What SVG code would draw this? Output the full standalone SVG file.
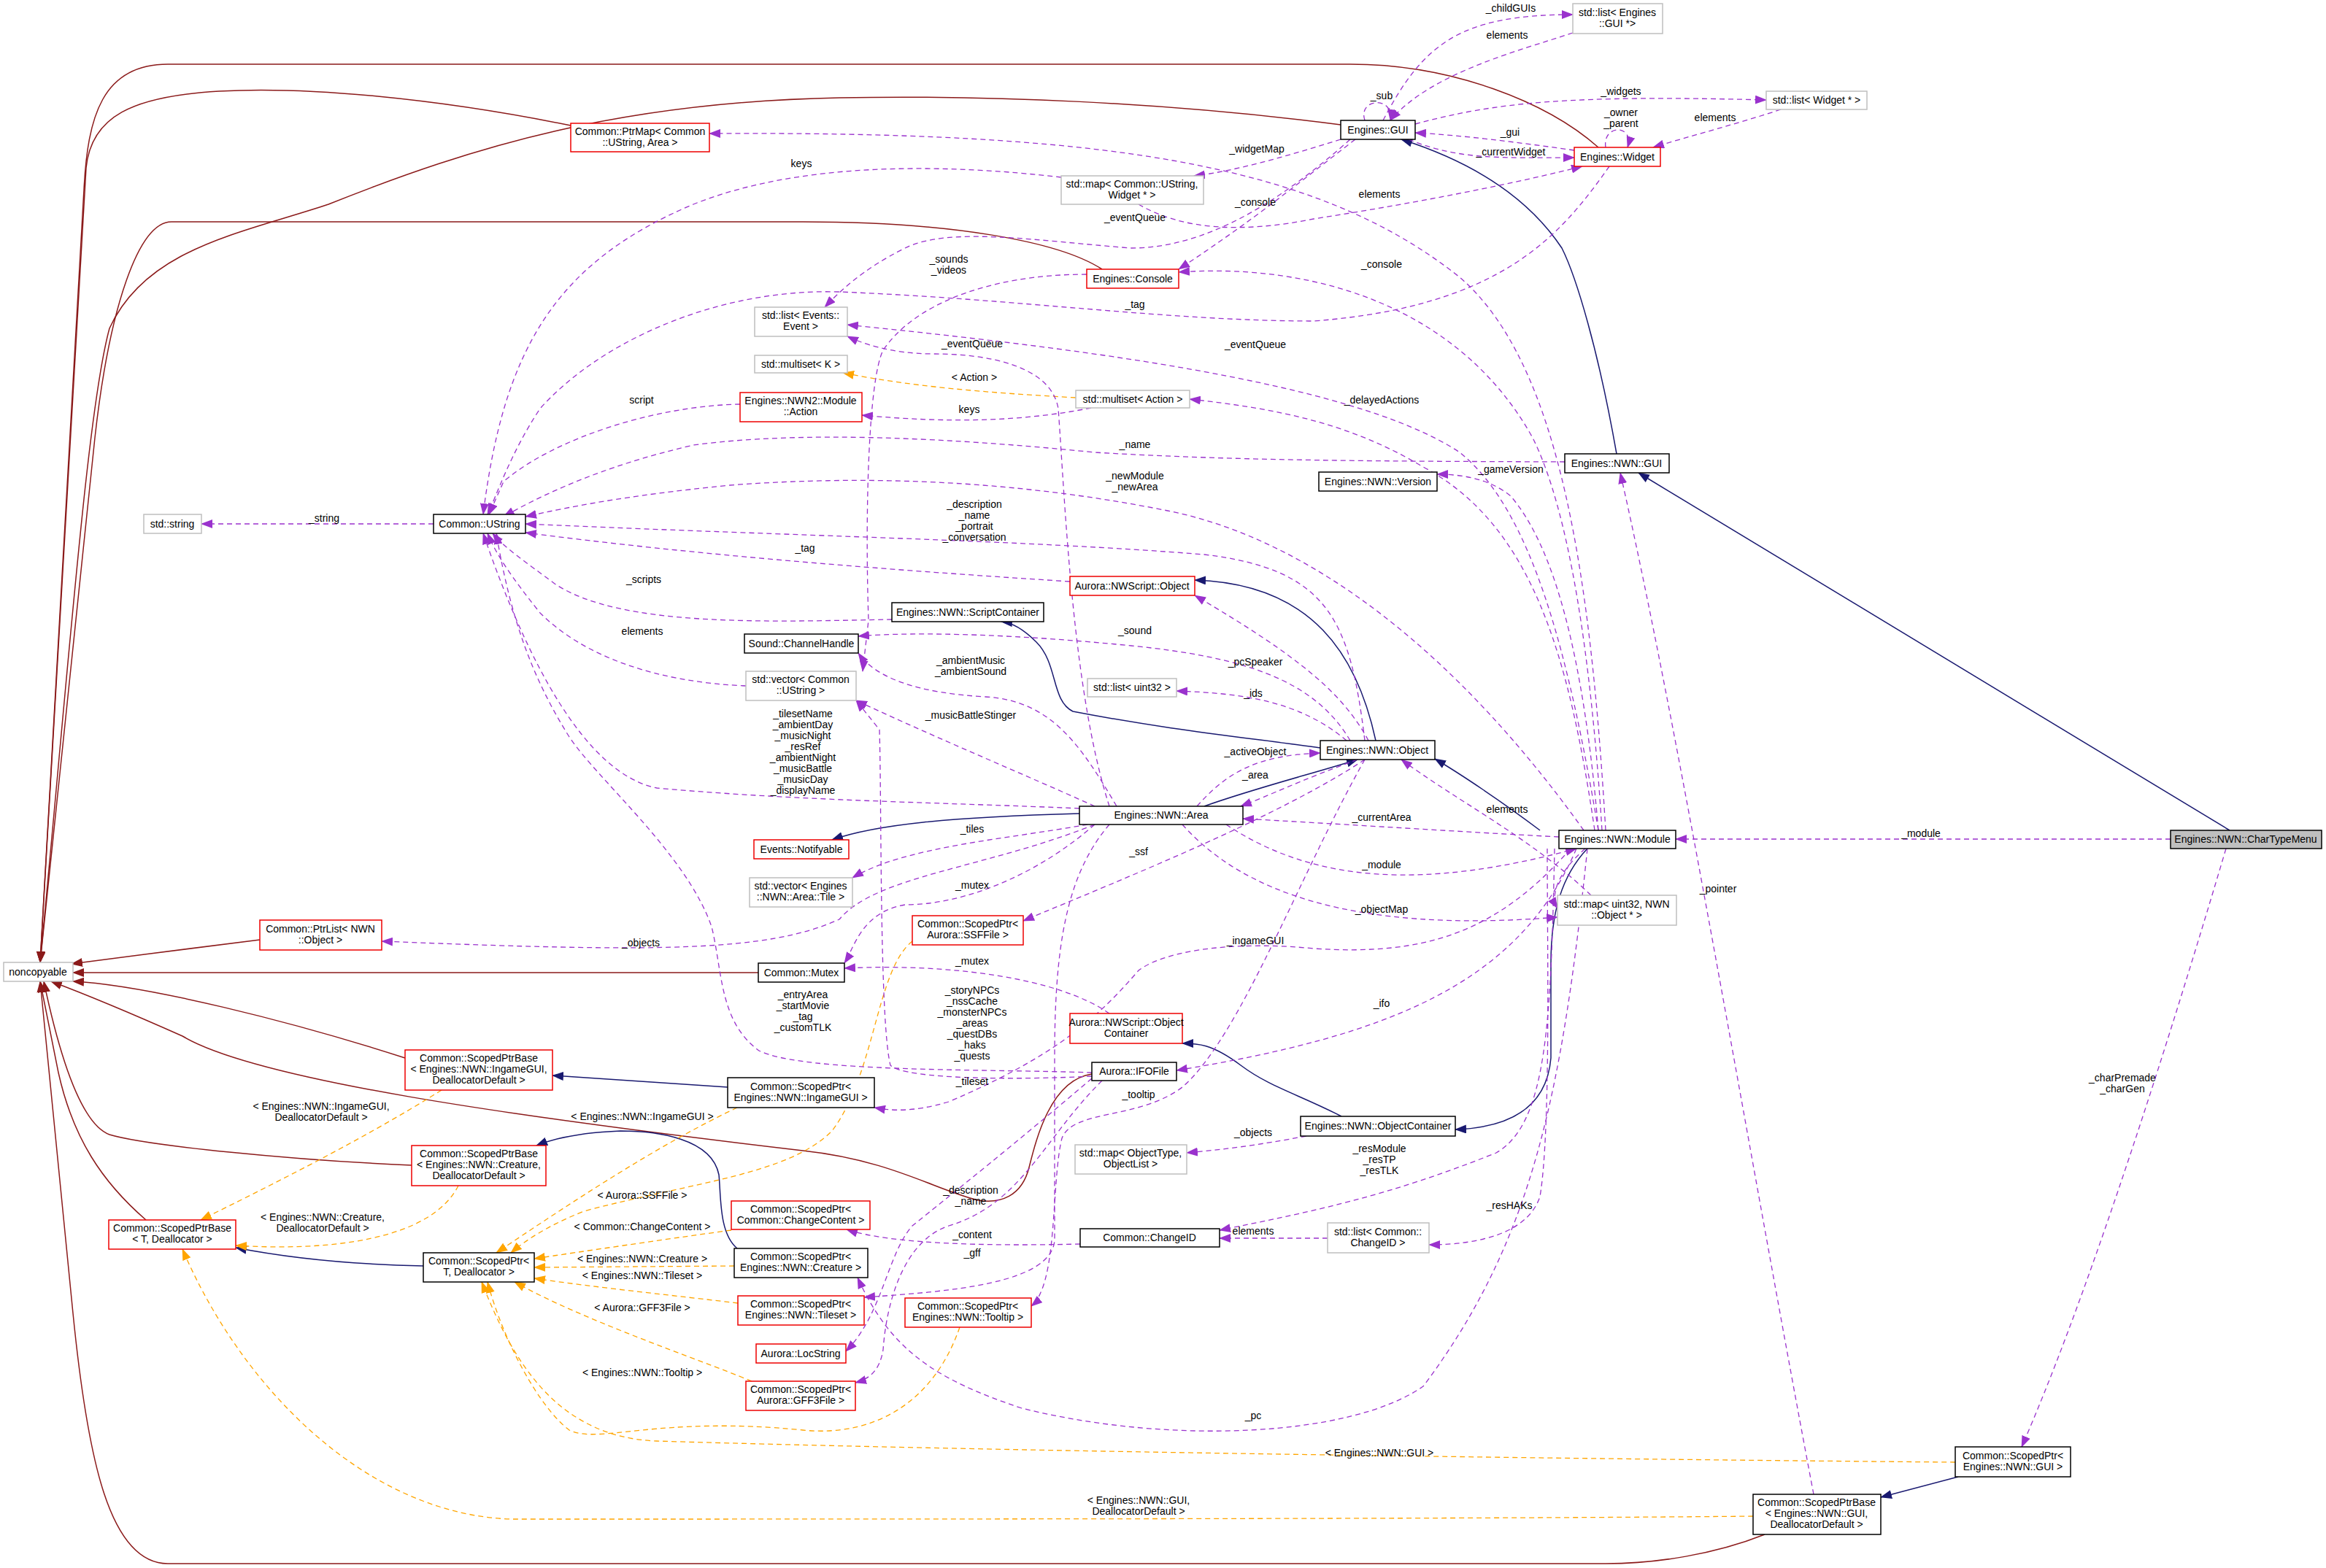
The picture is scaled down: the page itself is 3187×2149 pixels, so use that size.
<svg xmlns="http://www.w3.org/2000/svg" width="3187" height="2149" viewBox="0 0 3187 2149">
<style>
text{font-family:"Liberation Sans",Arial,sans-serif;font-size:14px;fill:#000;text-anchor:middle}
.k{fill:#fff;stroke:#000;stroke-width:1.5}
.r{fill:#fff;stroke:#e00;stroke-width:1.5}
.g{fill:#fff;stroke:#bfbfbf;stroke-width:1.5}
.s{fill:#bfbfbf;stroke:#000;stroke-width:1.5}
path{fill:none}
.u{stroke:#9a32cd;stroke-width:1.3;stroke-dasharray:7,5;marker-end:url(#mu)}
.i{stroke:#191970;stroke-width:1.5;marker-end:url(#mi)}
.p{stroke:#8b1a1a;stroke-width:1.5;marker-end:url(#mp)}
.o{stroke:#ffa500;stroke-width:1.3;stroke-dasharray:7,5;marker-end:url(#mo)}
</style>
<defs>
<marker id="mu" markerWidth="16" markerHeight="12" refX="15" refY="6" orient="auto" markerUnits="userSpaceOnUse"><path d="M0,0L16,6L0,12z" style="fill:#9a32cd;stroke:none"/></marker>
<marker id="mi" markerWidth="16" markerHeight="12" refX="15" refY="6" orient="auto" markerUnits="userSpaceOnUse"><path d="M0,0L16,6L0,12z" style="fill:#191970;stroke:none"/></marker>
<marker id="mp" markerWidth="16" markerHeight="12" refX="15" refY="6" orient="auto" markerUnits="userSpaceOnUse"><path d="M0,0L16,6L0,12z" style="fill:#8b1a1a;stroke:none"/></marker>
<marker id="mo" markerWidth="16" markerHeight="12" refX="15" refY="6" orient="auto" markerUnits="userSpaceOnUse"><path d="M0,0L16,6L0,12z" style="fill:#ffa500;stroke:none"/></marker>
</defs>
<rect width="3187" height="2149" fill="#fff"/>
<g id="edges">
<!-- dark red to noncopyable -->
<path class="p" d="M2190,202 C2120,140 1990,88 1850,88 L230,88 C140,88 120,160 115,260 L55,1319"/>
<path class="p" d="M782,172 C600,135 420,118 300,125 C180,132 125,160 118,230 L55,1319"/>
<path class="p" d="M1837,171 C1600,140 1350,130 1150,134 C850,140 650,200 450,280 C330,320 200,340 150,450 C120,560 95,900 55,1319"/>
<path class="p" d="M1510,369 C1450,330 1300,304 1100,304 L235,304 C190,304 150,420 130,600 L55,1319"/>
<path class="p" d="M1039,1333 L100,1333"/>
<path class="p" d="M356,1288 C300,1295 180,1310 98,1321"/>
<path class="p" d="M555,1450 C400,1400 200,1350 100,1345"/>
<path class="p" d="M1496,1472 C1440,1480 1420,1560 1410,1600 C1400,1640 1370,1650 1340,1645 C1280,1630 1220,1590 1100,1577 C700,1530 350,1480 250,1420 C160,1380 110,1360 70,1345"/>
<path class="p" d="M564,1597 C400,1590 200,1570 150,1555 C110,1540 80,1440 60,1345"/>
<path class="p" d="M200,1672 C140,1620 100,1560 80,1470 L55,1345"/>
<path class="p" d="M2418,2103 C2350,2130 2270,2143 2200,2143 L230,2143 C150,2143 120,2000 100,1800 L55,1345"/>
<!-- navy inheritance -->
<path class="i" d="M2215,622 C2190,480 2160,380 2140,340 C2080,250 1980,210 1920,191"/>
<path class="i" d="M3055,1138 L2245,648"/>
<path class="i" d="M1885,1015 C1860,900 1800,800 1637,795"/>
<path class="i" d="M1809,1025 C1700,1010 1600,1000 1470,975 C1440,960 1450,910 1420,880 C1400,860 1385,853 1372,852"/>
<path class="i" d="M1650,1105 C1720,1080 1800,1060 1860,1041"/>
<path class="i" d="M2110,1138 C2060,1100 2000,1060 1966,1040"/>
<path class="i" d="M1479,1115 C1300,1120 1200,1130 1140,1151"/>
<path class="i" d="M2175,1163 C2140,1200 2125,1250 2125,1320 L2125,1450 C2120,1510 2080,1545 1994,1548"/>
<path class="i" d="M1838,1530 C1780,1500 1740,1490 1700,1460 C1660,1430 1640,1430 1620,1430"/>
<path class="i" d="M997,1490 L757,1474"/>
<path class="i" d="M1010,1711 C985,1690 988,1640 985,1610 C975,1560 900,1550 850,1550 C800,1552 760,1560 735,1570"/>
<path class="i" d="M580,1735 C480,1733 400,1725 323,1710"/>
<path class="i" d="M2683,2024 L2577,2052"/>
<!-- orange template -->
<path class="o" d="M1474,545 C1350,538 1250,530 1155,511"/>
<path class="o" d="M605,1494 C500,1560 380,1620 275,1672"/>
<path class="o" d="M628,1625 C590,1700 450,1715 323,1707"/>
<path class="o" d="M2402,2078 C2000,2082 1200,2082 700,2082 C500,2075 330,1900 250,1712"/>
<path class="o" d="M1010,1518 C900,1570 780,1650 680,1717"/>
<path class="o" d="M1250,1290 C1200,1330 1200,1470 1140,1550 C1080,1610 950,1620 800,1660 C750,1680 720,1700 700,1717"/>
<path class="o" d="M1002,1686 C900,1700 800,1715 732,1725"/>
<path class="o" d="M1006,1735 L732,1737"/>
<path class="o" d="M1011,1786 C920,1775 820,1765 732,1752"/>
<path class="o" d="M1030,1893 C950,1860 800,1810 705,1757"/>
<path class="o" d="M1315,1819 C1280,1920 1200,1970 1100,1960 C900,1940 820,1980 780,1960 C740,1930 690,1840 668,1757"/>
<path class="o" d="M2679,2004 C2200,2000 1400,1990 900,1975 C760,1970 700,1860 660,1757"/>
<!-- purple usage -->
<path class="u" d="M594,718 L276,718"/>
<path class="u" d="M2155,45 C2080,70 1960,100 1905,165"/>
<path class="u" d="M1895,165 C1950,60 2000,20 2155,20"/>
<path class="u" d="M1870,165 C1860,135 1910,130 1905,165"/>
<path class="u" d="M1939,170 C2050,140 2150,130 2420,137"/>
<path class="u" d="M2440,150 C2380,170 2320,185 2265,202"/>
<path class="u" d="M2200,202 C2195,170 2240,170 2230,202"/>
<path class="u" d="M2157,206 C2080,195 2000,185 1939,182"/>
<path class="u" d="M1930,191 C2000,220 2060,216 2157,216"/>
<path class="u" d="M1837,191 C1760,215 1690,235 1636,241"/>
<path class="u" d="M1560,280 C1620,315 1700,320 1800,300 C1960,275 2080,250 2168,228"/>
<path class="u" d="M1454,243 C1300,225 1100,220 950,280 C760,360 690,480 662,705"/>
<path class="u" d="M1857,191 C1780,250 1720,300 1615,369"/>
<path class="u" d="M1850,191 C1750,280 1650,340 1550,340 C1420,330 1300,310 1240,340 C1180,370 1150,400 1130,421"/>
<path class="u" d="M1489,376 C1350,376 1250,420 1210,480 C1190,520 1185,700 1190,850 L1182,920"/>
<path class="u" d="M2205,228 C2140,320 2060,420 1800,440 C1600,440 1400,410 1150,400 C980,395 820,470 740,560 C700,620 680,680 668,705"/>
<path class="u" d="M2195,1138 C2180,900 2150,700 2100,600 C2000,420 1800,360 1615,373"/>
<path class="u" d="M2190,1138 C2150,900 2100,700 2000,620 C1850,520 1450,475 1161,445"/>
<path class="u" d="M1520,1105 C1470,950 1460,700 1450,560 C1440,500 1350,485 1280,485 C1220,485 1180,470 1161,461"/>
<path class="u" d="M2185,1138 C2150,900 2100,720 1950,640 C1850,580 1750,560 1630,547"/>
<path class="u" d="M1495,559 C1400,578 1300,580 1181,569"/>
<path class="u" d="M1014,554 C900,556 760,600 690,660 L670,705"/>
<path class="u" d="M2144,633 C1900,632 1700,632 1500,620 C1300,600 1100,590 950,610 C820,640 740,680 690,708"/>
<path class="u" d="M2170,1138 C2000,900 1800,740 1600,700 C1400,660 1200,650 1000,665 C850,680 780,695 720,708"/>
<path class="u" d="M1870,1015 C1850,850 1820,780 1650,760 C1400,740 1100,735 720,718"/>
<path class="u" d="M1466,797 C1200,780 950,760 720,730"/>
<path class="u" d="M1222,849 C1050,852 850,860 760,800 C720,770 690,750 675,731"/>
<path class="u" d="M1022,940 C900,935 800,900 740,840 C700,790 680,760 668,731"/>
<path class="u" d="M1479,1108 C1300,1100 1100,1098 900,1080 C800,1060 720,900 662,731"/>
<path class="u" d="M1496,1470 C1350,1465 1100,1470 1040,1440 C985,1400 990,1330 975,1270 C940,1170 820,1070 780,1010 C730,930 700,850 680,731"/>
<path class="u" d="M1850,1015 C1800,930 1700,900 1550,885 C1400,870 1260,865 1176,872"/>
<path class="u" d="M1530,1105 C1480,1020 1440,960 1350,955 C1260,950 1200,930 1176,895"/>
<path class="u" d="M1500,1105 C1400,1060 1280,1010 1173,960"/>
<path class="u" d="M1845,1015 C1780,960 1700,950 1612,947"/>
<path class="u" d="M1875,1015 C1840,950 1780,900 1637,816"/>
<path class="u" d="M1640,1105 C1680,1060 1720,1035 1809,1032"/>
<path class="u" d="M1860,1041 C1780,1070 1740,1090 1700,1105"/>
<path class="u" d="M2136,1147 C2000,1140 1850,1130 1703,1122"/>
<path class="u" d="M1680,1130 C1800,1210 1950,1220 2160,1163"/>
<path class="u" d="M1620,1130 C1700,1220 1850,1280 2134,1257"/>
<path class="u" d="M2180,1227 C2100,1150 2000,1100 1920,1041"/>
<path class="u" d="M2172,1163 C2130,1200 2125,1230 2134,1245"/>
<path class="u" d="M2152,1163 C2050,1280 1950,1310 1800,1300 C1700,1290 1600,1300 1560,1330 C1500,1400 1440,1450 1300,1510 C1250,1525 1220,1522 1198,1518"/>
<path class="u" d="M2160,1163 C2080,1350 1900,1420 1612,1467"/>
<path class="u" d="M1520,1389 C1450,1340 1300,1320 1157,1327"/>
<path class="u" d="M1500,1130 C1420,1200 1320,1240 1240,1240 C1180,1250 1170,1300 1157,1320"/>
<path class="u" d="M1490,1130 C1380,1150 1240,1160 1168,1203"/>
<path class="u" d="M1870,1041 C1750,1120 1550,1200 1402,1262"/>
<path class="u" d="M1500,1130 C1350,1190 1200,1200 1150,1260 C1050,1305 900,1305 523,1290"/>
<path class="u" d="M1520,1130 C1460,1200 1445,1300 1445,1450 L1445,1700 C1440,1760 1300,1770 1184,1778"/>
<path class="u" d="M1496,1475 C1400,1480 1240,1480 1220,1460 C1205,1400 1208,1100 1205,1000 L1173,960"/>
<path class="u" d="M1496,1478 C1400,1560 1300,1640 1250,1680 C1215,1720 1210,1800 1159,1852"/>
<path class="u" d="M2130,1163 C2125,1400 2120,1540 2050,1580 C1900,1640 1800,1660 1671,1686"/>
<path class="u" d="M2120,1163 C2120,1300 2125,1550 2110,1640 C2090,1700 2000,1706 1958,1706"/>
<path class="u" d="M1819,1697 L1671,1697"/>
<path class="u" d="M1480,1705 C1350,1708 1220,1705 1160,1685"/>
<path class="u" d="M1510,1481 C1430,1560 1400,1650 1300,1680 C1240,1700 1215,1780 1210,1850 C1205,1880 1190,1890 1172,1895"/>
<path class="u" d="M1870,1041 C1780,1200 1700,1420 1620,1490 C1560,1535 1470,1520 1455,1560 C1440,1620 1450,1760 1413,1790"/>
<path class="u" d="M2175,1163 C2140,1500 2100,1700 1950,1900 C1850,1970 1600,1980 1400,1930 C1280,1890 1220,1850 1175,1751"/>
<path class="u" d="M1790,1557 C1720,1570 1680,1575 1626,1580"/>
<path class="u" d="M2190,1138 C2170,900 2130,750 2070,680 C2040,655 2000,650 1969,650"/>
<path class="u" d="M2485,2048 C2400,1600 2300,1000 2220,648"/>
<path class="u" d="M3050,1163 C2950,1500 2850,1800 2770,1983"/>
<path class="u" d="M2974,1150 L2296,1150"/>
<path class="u" d="M2200,1138 C2180,800 2140,500 2000,380 C1800,220 1500,180 972,183"/>
</g>
<g id="labels">
<text x="444" y="715">_string</text>
<text x="2065" y="53">elements</text>
<text x="2070" y="16">_childGUIs</text>
<text x="1893" y="136">_sub</text>
<text x="2221" y="130">_widgets</text>
<text x="2350" y="166">elements</text>
<text x="2221" y="159">_owner</text><text x="2221" y="174">_parent</text>
<text x="2069" y="186">_gui</text>
<text x="2070" y="213">_currentWidget</text>
<text x="1722" y="209">_widgetMap</text>
<text x="1890" y="271">elements</text>
<text x="1098" y="229">keys</text>
<text x="1720" y="282">_console</text>
<text x="1555" y="303">_eventQueue</text>
<text x="1300" y="360">_sounds</text><text x="1300" y="375">_videos</text>
<text x="1555" y="422">_tag</text>
<text x="1893" y="367">_console</text>
<text x="1720" y="477">_eventQueue</text>
<text x="1332" y="476">_eventQueue</text>
<text x="1893" y="553">_delayedActions</text>
<text x="1335" y="522">&lt; Action &gt;</text>
<text x="1328" y="566">keys</text>
<text x="879" y="553">script</text>
<text x="1555" y="614">_name</text>
<text x="1555" y="657">_newModule</text><text x="1555" y="672">_newArea</text>
<text x="2070" y="648">_gameVersion</text>
<text x="1335" y="696">_description</text><text x="1335" y="711">_name</text><text x="1335" y="726">_portrait</text><text x="1335" y="741">_conversation</text>
<text x="1103" y="756">_tag</text>
<text x="882" y="799">_scripts</text>
<text x="880" y="870">elements</text>
<text x="1720" y="912">_pcSpeaker</text>
<text x="1555" y="869">_sound</text>
<text x="1330" y="910">_ambientMusic</text><text x="1330" y="925">_ambientSound</text>
<text x="1717" y="955">_ids</text>
<text x="1330" y="985">_musicBattleStinger</text>
<text x="1100" y="983">_tilesetName</text><text x="1100" y="998">_ambientDay</text><text x="1100" y="1013">_musicNight</text><text x="1100" y="1028">_resRef</text><text x="1100" y="1043">_ambientNight</text><text x="1100" y="1058">_musicBattle</text><text x="1100" y="1073">_musicDay</text><text x="1100" y="1088">_displayName</text>
<text x="1720" y="1035">_activeObject</text>
<text x="1720" y="1067">_area</text>
<text x="2065" y="1114">elements</text>
<text x="1893" y="1125">_currentArea</text>
<text x="2632" y="1147">_module</text>
<text x="1893" y="1190">_module</text>
<text x="1332" y="1141">_tiles</text>
<text x="1560" y="1172">_ssf</text>
<text x="2354" y="1223">_pointer</text>
<text x="1332" y="1218">_mutex</text>
<text x="1893" y="1251">_objectMap</text>
<text x="1720" y="1294">_ingameGUI</text>
<text x="878" y="1297">_objects</text>
<text x="1332" y="1322">_mutex</text>
<text x="1100" y="1368">_entryArea</text><text x="1100" y="1383">_startMovie</text><text x="1100" y="1398">_tag</text><text x="1100" y="1413">_customTLK</text>
<text x="1332" y="1362">_storyNPCs</text><text x="1332" y="1377">_nssCache</text><text x="1332" y="1392">_monsterNPCs</text><text x="1332" y="1407">_areas</text><text x="1332" y="1422">_questDBs</text><text x="1332" y="1437">_haks</text><text x="1332" y="1452">_quests</text>
<text x="1893" y="1380">_ifo</text>
<text x="2908" y="1482">_charPremade</text><text x="2908" y="1497">_charGen</text>
<text x="1332" y="1487">_tileset</text>
<text x="1560" y="1505">_tooltip</text>
<text x="440" y="1521">&lt; Engines::NWN::IngameGUI,</text><text x="440" y="1536">DeallocatorDefault &gt;</text>
<text x="880" y="1535">&lt; Engines::NWN::IngameGUI &gt;</text>
<text x="1717" y="1557">_objects</text>
<text x="1890" y="1579">_resModule</text><text x="1890" y="1594">_resTP</text><text x="1890" y="1609">_resTLK</text>
<text x="1330" y="1636">_description</text><text x="1330" y="1651">_name</text>
<text x="880" y="1643">&lt; Aurora::SSFFile &gt;</text>
<text x="2068" y="1657">_resHAKs</text>
<text x="442" y="1673">&lt; Engines::NWN::Creature,</text><text x="442" y="1688">DeallocatorDefault &gt;</text>
<text x="880" y="1686">&lt; Common::ChangeContent &gt;</text>
<text x="1717" y="1692">elements</text>
<text x="1332" y="1697">_content</text>
<text x="1332" y="1722">_gff</text>
<text x="880" y="1730">&lt; Engines::NWN::Creature &gt;</text>
<text x="880" y="1753">&lt; Engines::NWN::Tileset &gt;</text>
<text x="880" y="1797">&lt; Aurora::GFF3File &gt;</text>
<text x="880" y="1886">&lt; Engines::NWN::Tooltip &gt;</text>
<text x="1717" y="1945">_pc</text>
<text x="1890" y="1996">&lt; Engines::NWN::GUI &gt;</text>
<text x="1560" y="2061">&lt; Engines::NWN::GUI,</text><text x="1560" y="2076">DeallocatorDefault &gt;</text>
</g>
<g id="n_chartypemenu"><rect class="s" x="2974" y="1138" width="207" height="25"/><text x="3077" y="1155">Engines::NWN::CharTypeMenu</text></g>
<g id="n_module"><rect class="k" x="2136" y="1138" width="160" height="25"/><text x="2216" y="1155">Engines::NWN::Module</text></g>
<g id="n_mapobj"><rect class="g" x="2134" y="1227" width="163" height="41"/><text x="2215" y="1244">std::map&lt; uint32, NWN</text><text x="2215" y="1259">::Object * &gt;</text></g>
<g id="n_nwngui"><rect class="k" x="2144" y="622" width="143" height="26"/><text x="2215" y="640">Engines::NWN::GUI</text></g>
<g id="n_gui"><rect class="k" x="1837" y="165" width="102" height="26"/><text x="1888" y="183">Engines::GUI</text></g>
<g id="n_widget"><rect class="r" x="2157" y="202" width="118" height="26"/><text x="2216" y="220">Engines::Widget</text></g>
<g id="n_listgui"><rect class="g" x="2155" y="5" width="123" height="41"/><text x="2216" y="22">std::list&lt; Engines</text><text x="2216" y="37">::GUI *&gt;</text></g>
<g id="n_listwidget"><rect class="g" x="2420" y="125" width="138" height="25"/><text x="2489" y="142">std::list&lt; Widget * &gt;</text></g>
<g id="n_ptrmap"><rect class="r" x="782" y="169" width="190" height="39"/><text x="877" y="185">Common::PtrMap&lt; Common</text><text x="877" y="200">::UString, Area &gt;</text></g>
<g id="n_mapwidget"><rect class="g" x="1454" y="241" width="195" height="39"/><text x="1551" y="257">std::map&lt; Common::UString,</text><text x="1551" y="272">Widget * &gt;</text></g>
<g id="n_console"><rect class="r" x="1489" y="369" width="126" height="26"/><text x="1552" y="387">Engines::Console</text></g>
<g id="n_listevents"><rect class="g" x="1034" y="421" width="127" height="40"/><text x="1097" y="437">std::list&lt; Events::</text><text x="1097" y="452">Event &gt;</text></g>
<g id="n_multisetk"><rect class="g" x="1034" y="487" width="127" height="24"/><text x="1097" y="504">std::multiset&lt; K &gt;</text></g>
<g id="n_action"><rect class="r" x="1014" y="538" width="167" height="40"/><text x="1097" y="554">Engines::NWN2::Module</text><text x="1097" y="569">::Action</text></g>
<g id="n_multisetaction"><rect class="g" x="1474" y="535" width="156" height="24"/><text x="1552" y="552">std::multiset&lt; Action &gt;</text></g>
<g id="n_stdstring"><rect class="g" x="197" y="705" width="79" height="26"/><text x="236" y="723">std::string</text></g>
<g id="n_ustring"><rect class="k" x="594" y="705" width="126" height="26"/><text x="657" y="723">Common::UString</text></g>
<g id="n_nwscriptobject"><rect class="r" x="1466" y="790" width="171" height="26"/><text x="1551" y="808">Aurora::NWScript::Object</text></g>
<g id="n_scriptcontainer"><rect class="k" x="1222" y="826" width="208" height="26"/><text x="1326" y="844">Engines::NWN::ScriptContainer</text></g>
<g id="n_channelhandle"><rect class="k" x="1020" y="869" width="156" height="26"/><text x="1098" y="887">Sound::ChannelHandle</text></g>
<g id="n_vectorustring"><rect class="g" x="1022" y="920" width="151" height="40"/><text x="1097" y="936">std::vector&lt; Common</text><text x="1097" y="951">::UString &gt;</text></g>
<g id="n_listuint32"><rect class="g" x="1490" y="930" width="122" height="25"/><text x="1551" y="947">std::list&lt; uint32 &gt;</text></g>
<g id="n_object"><rect class="k" x="1809" y="1015" width="157" height="26"/><text x="1887" y="1033">Engines::NWN::Object</text></g>
<g id="n_version"><rect class="k" x="1807" y="647" width="162" height="26"/><text x="1888" y="665">Engines::NWN::Version</text></g>
<g id="n_area"><rect class="k" x="1479" y="1105" width="224" height="25"/><text x="1591" y="1122">Engines::NWN::Area</text></g>
<g id="n_notifyable"><rect class="r" x="1033" y="1151" width="130" height="26"/><text x="1098" y="1169">Events::Notifyable</text></g>
<g id="n_vectortile"><rect class="g" x="1027" y="1203" width="141" height="40"/><text x="1097" y="1219">std::vector&lt; Engines</text><text x="1097" y="1234">::NWN::Area::Tile &gt;</text></g>
<g id="n_ptrlist"><rect class="r" x="356" y="1261" width="167" height="41"/><text x="439" y="1278">Common::PtrList&lt; NWN</text><text x="439" y="1293">::Object &gt;</text></g>
<g id="n_noncopyable"><rect class="g" x="5" y="1319" width="95" height="26"/><text x="52" y="1337">noncopyable</text></g>
<g id="n_mutex"><rect class="k" x="1039" y="1320" width="118" height="26"/><text x="1098" y="1338">Common::Mutex</text></g>
<g id="n_ssf"><rect class="r" x="1250" y="1255" width="152" height="40"/><text x="1326" y="1271">Common::ScopedPtr&lt;</text><text x="1326" y="1286">Aurora::SSFFile &gt;</text></g>
<g id="n_nwsobjcontainer"><rect class="r" x="1466" y="1389" width="154" height="41"/><text x="1543" y="1406">Aurora::NWScript::Object</text><text x="1543" y="1421">Container</text></g>
<g id="n_ifo"><rect class="k" x="1496" y="1456" width="116" height="25"/><text x="1554" y="1473">Aurora::IFOFile</text></g>
<g id="n_spbingame"><rect class="r" x="555" y="1439" width="202" height="55"/><text x="656" y="1455">Common::ScopedPtrBase</text><text x="656" y="1470">&lt; Engines::NWN::IngameGUI,</text><text x="656" y="1485">DeallocatorDefault &gt;</text></g>
<g id="n_spingame"><rect class="k" x="997" y="1477" width="201" height="41"/><text x="1097" y="1494">Common::ScopedPtr&lt;</text><text x="1097" y="1509">Engines::NWN::IngameGUI &gt;</text></g>
<g id="n_spbcreature"><rect class="r" x="564" y="1570" width="184" height="55"/><text x="656" y="1586">Common::ScopedPtrBase</text><text x="656" y="1601">&lt; Engines::NWN::Creature,</text><text x="656" y="1616">DeallocatorDefault &gt;</text></g>
<g id="n_mapobjtype"><rect class="g" x="1473" y="1569" width="153" height="40"/><text x="1549" y="1585">std::map&lt; ObjectType,</text><text x="1549" y="1600">ObjectList &gt;</text></g>
<g id="n_objcontainer"><rect class="k" x="1782" y="1530" width="212" height="27"/><text x="1888" y="1548">Engines::NWN::ObjectContainer</text></g>
<g id="n_spbt"><rect class="r" x="149" y="1672" width="174" height="40"/><text x="236" y="1688">Common::ScopedPtrBase</text><text x="236" y="1703">&lt; T, Deallocator &gt;</text></g>
<g id="n_changecontent"><rect class="r" x="1002" y="1646" width="190" height="39"/><text x="1097" y="1662">Common::ScopedPtr&lt;</text><text x="1097" y="1677">Common::ChangeContent &gt;</text></g>
<g id="n_changeid"><rect class="k" x="1480" y="1684" width="191" height="25"/><text x="1575" y="1701">Common::ChangeID</text></g>
<g id="n_listchangeid"><rect class="g" x="1819" y="1676" width="139" height="41"/><text x="1888" y="1693">std::list&lt; Common::</text><text x="1888" y="1708">ChangeID &gt;</text></g>
<g id="n_spt"><rect class="k" x="580" y="1717" width="152" height="40"/><text x="656" y="1733">Common::ScopedPtr&lt;</text><text x="656" y="1748">T, Deallocator &gt;</text></g>
<g id="n_spcreature"><rect class="k" x="1006" y="1711" width="183" height="40"/><text x="1097" y="1727">Common::ScopedPtr&lt;</text><text x="1097" y="1742">Engines::NWN::Creature &gt;</text></g>
<g id="n_sptileset"><rect class="r" x="1011" y="1776" width="173" height="40"/><text x="1097" y="1792">Common::ScopedPtr&lt;</text><text x="1097" y="1807">Engines::NWN::Tileset &gt;</text></g>
<g id="n_sptooltip"><rect class="r" x="1240" y="1779" width="173" height="40"/><text x="1326" y="1795">Common::ScopedPtr&lt;</text><text x="1326" y="1810">Engines::NWN::Tooltip &gt;</text></g>
<g id="n_locstring"><rect class="r" x="1036" y="1842" width="123" height="26"/><text x="1097" y="1860">Aurora::LocString</text></g>
<g id="n_gff3"><rect class="r" x="1022" y="1893" width="150" height="40"/><text x="1097" y="1909">Common::ScopedPtr&lt;</text><text x="1097" y="1924">Aurora::GFF3File &gt;</text></g>
<g id="n_spgui"><rect class="k" x="2679" y="1983" width="158" height="41"/><text x="2758" y="2000">Common::ScopedPtr&lt;</text><text x="2758" y="2015">Engines::NWN::GUI &gt;</text></g>
<g id="n_spbgui"><rect class="k" x="2402" y="2048" width="175" height="55"/><text x="2489" y="2064">Common::ScopedPtrBase</text><text x="2489" y="2079">&lt; Engines::NWN::GUI,</text><text x="2489" y="2094">DeallocatorDefault &gt;</text></g>
</svg>
